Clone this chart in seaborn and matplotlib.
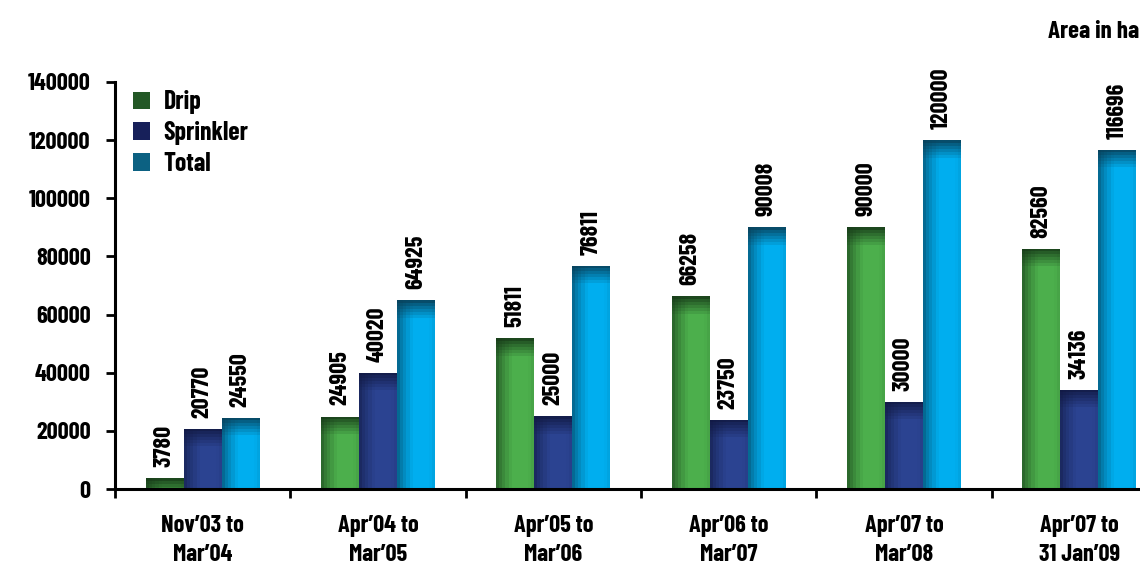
import numpy as np
import pandas as pd
import matplotlib
matplotlib.use("Agg")
import matplotlib.pyplot as plt
import matplotlib.colors as mcolors
from matplotlib.patches import Patch
import seaborn as sns

# Micro-irrigation coverage by period (area in ha)
periods = ["Nov’03 to\nMar’04", "Apr’04 to\nMar’05", "Apr’05 to\nMar’06",
           "Apr’06 to\nMar’07", "Apr’07 to\nMar’08", "Apr’07 to\n31 Jan’09"]
drip = [3780, 24905, 51811, 66258, 90000, 82560]
sprinkler = [20770, 40020, 25000, 23750, 30000, 34136]
total = [24550, 64925, 76811, 90008, 120000, 116696]
series_names = ["Drip", "Sprinkler", "Total"]
y_ticks = [0, 20000, 40000, 60000, 80000, 100000, 120000, 140000]

# (bright, dark) pairs for the shaded bar fills
shades = {
    "Drip": ("#4caf4c", "#173a18"),
    "Sprinkler": ("#2b4391", "#111943"),
    "Total": ("#00aeef", "#083f58"),
}
legend_colors = {"Drip": "#235826", "Sprinkler": "#17205a", "Total": "#0c6182"}

sns.set_theme(style="white")
plt.rcParams["font.family"] = ["Barlow Condensed", "Fira Sans Condensed",
                               "Liberation Sans", "DejaVu Sans"]
plt.rcParams["font.weight"] = "bold"
plt.rcParams["text.color"] = "black"
plt.rcParams["xtick.color"] = "black"
plt.rcParams["ytick.color"] = "black"

df = pd.DataFrame({
    "period": periods * 3,
    "area": drip + sprinkler + total,
    "type": [s for s in series_names for _ in periods],
})

fig = plt.figure(figsize=(11.4, 5.65), dpi=100)
ax = fig.add_axes([115 / 1140, 76 / 565, 1052 / 1140, 407 / 565])

sns.barplot(data=df, x="period", y="area", hue="type", order=periods,
            hue_order=series_names,
            palette={k: v[0] for k, v in shades.items()},
            width=0.65, gap=0, saturation=1, legend=False, ax=ax,
            err_kws={"linewidth": 0})

ax.set_xlim(-0.5, 5.5)
ax.set_ylim(0, 140000)
fig.canvas.draw()


def shaded_fill(patch, bright, dark):
    x0, y0 = patch.get_x(), patch.get_y()
    w, h = patch.get_width(), patch.get_height()
    p0 = ax.transData.transform((x0, y0))
    p1 = ax.transData.transform((x0 + w, y0 + h))
    hpx = max(int(round(abs(p1[1] - p0[1]))), 1)
    ncol = 12
    u = (np.arange(ncol) + 0.5) / ncol
    hx = np.clip(u / 0.42, 0, 1) ** 0.8
    hx = 0.28 + 0.72 * hx
    hx *= 1 - 0.12 * np.clip((u - 0.85) / 0.15, 0, 1)
    rows = np.arange(hpx)
    rows_q = (rows // 3) * 3
    vy = 0.12 + 0.88 * np.clip(rows_q / 18.0, 0, 1) ** 0.9
    k = vy[:, None] * hx[None, :]
    b = np.array(mcolors.to_rgb(bright))
    d = np.array(mcolors.to_rgb(dark))
    img = d + (b - d) * k[..., None]
    im = ax.imshow(img, extent=(x0, x0 + w, y0, y0 + h), origin="upper",
                   aspect="auto", interpolation="nearest", zorder=1.5)
    im.set_clip_path(patch)
    patch.set_facecolor("none")
    patch.set_edgecolor("none")


for name, container in zip(series_names, ax.containers):
    bright, dark = shades[name]
    for bar in container:
        shaded_fill(bar, bright, dark)
    ax.bar_label(container, labels=[f"{int(v)}" for v in container.datavalues],
                 rotation=90, padding=8, fontsize=17.5, fontweight="bold",
                 color="black")

ax.set_xlim(-0.5, 5.5)
ax.set_ylim(0, 140000)

for side in ["top", "right"]:
    ax.spines[side].set_visible(False)
for side in ["left", "bottom"]:
    ax.spines[side].set_linewidth(2.2)
    ax.spines[side].set_color("black")

ax.set_yticks(y_ticks)
ax.set_yticklabels([str(v) for v in y_ticks], fontsize=17.5, fontweight="bold")
ax.tick_params(axis="y", direction="out", length=6.5, width=2.0, pad=11,
               left=True, colors="black")

ax.set_xticks(range(len(periods)))
ax.set_xticklabels(periods, fontsize=17.5, fontweight="bold", linespacing=1.4)
ax.tick_params(axis="x", which="major", length=0, pad=19)
ax.set_xticks(np.arange(-0.5, len(periods), 1.0), minor=True)
ax.tick_params(axis="x", which="minor", direction="out", length=6.5, width=2.0,
               bottom=True, colors="black")
ax.set_xlabel("")
ax.set_ylabel("")
ax.grid(False)

handles = [Patch(facecolor=legend_colors[n], edgecolor="none", label=n)
           for n in series_names]
ax.legend(handles=handles, loc="upper left", bbox_to_anchor=(0.017, 0.98),
          frameon=False, handlelength=0.65, handleheight=0.65,
          handletextpad=0.55, labelspacing=0.27, borderpad=0, borderaxespad=0,
          prop={"weight": "bold", "size": 18.5})

fig.text(1139 / 1140, 1 - 38 / 565, "Area in ha", fontsize=18,
         fontweight="bold", va="baseline", ha="right")

fig.savefig("out.png", dpi=100)
